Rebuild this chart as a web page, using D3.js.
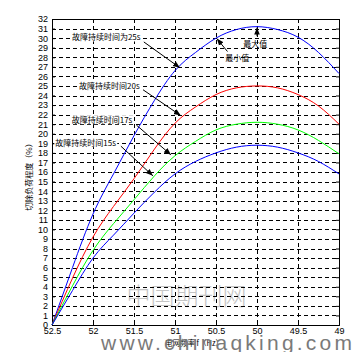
<!DOCTYPE html>
<html>
<head>
<meta charset="utf-8">
<script src="https://cdn.jsdelivr.net/npm/d3@7"></script>
<style>
  body { margin: 0; background: #fff; }
  svg { display: block; }
  text { font-family: "Liberation Sans", Arial, sans-serif; }
</style>
</head>
<body>
<div id="chart"></div>
<script>
// frequency (Hz), read left to right
const freq = [52.5, 52.25, 52, 51.75, 51.5, 51.25, 51, 50.75, 50.5, 50.25, 50, 49.75, 49.5, 49.25, 49];
const dur25 = [0, 6.0, 11.6, 15.8, 19.8, 23.5, 26.6, 28.5, 30.0, 30.9, 31.2, 30.9, 30.1, 28.5, 26.3];
const dur20 = [0, 4.9, 9.2, 12.4, 15.3, 18.4, 21.1, 22.8, 24.1, 24.8, 25.0, 24.8, 24.1, 22.9, 21.0];
const dur17 = [0, 4.1, 7.8, 10.6, 13.1, 15.6, 17.7, 19.2, 20.4, 21.0, 21.2, 21.0, 20.4, 19.3, 17.9];
const dur15 = [0, 3.6, 7.0, 9.4, 11.7, 13.9, 15.8, 17.1, 18.0, 18.6, 18.8, 18.6, 18.0, 17.1, 15.8];
const seriesColors = ["#0000ff", "#ff0000", "#00ff00", "#0000ff"];
const seriesNames = ["故障持续时间为25s", "故障持续时间20s", "故障持续时间17s", "故障持续时间15s"];
const xTicks = [52.5, 52, 51.5, 51, 50.5, 50, 49.5, 49];
const xTickLabels = ["52.5", "52", "51.5", "51", "50.5", "50", "49.5", "49"];
const yTicks = d3.range(0, 33);

// annotation: label right end (freq, value), arrow start -> arrow target on curve
const labelPos = [[51.42, 30.05], [51.43, 25.0], [51.52, 21.4], [51.72, 19.0]];
const arrowFrom = [[51.38, 29.6], [51.39, 24.6], [51.47, 20.9], [51.66, 18.7]];
const arrowTo = [[50.94, 26.9], [50.93, 21.9], [51.05, 17.8], [51.27, 15.6]];

const W = 354, H = 352;
const margin = { top: 19, right: 15, bottom: 27, left: 52 };
const width = W - margin.left - margin.right;
const height = H - margin.top - margin.bottom;

const svg = d3.select("#chart").append("svg")
  .attr("width", W).attr("height", H);

svg.append("defs").append("marker")
  .attr("id", "arr")
  .attr("viewBox", "0 0 10 10")
  .attr("refX", 10).attr("refY", 5)
  .attr("markerWidth", 7).attr("markerHeight", 7)
  .attr("markerUnits", "userSpaceOnUse")
  .attr("orient", "auto")
  .append("path").attr("d", "M0,1L10,5L0,9z").attr("fill", "#000");

const g = svg.append("g").attr("transform", `translate(${margin.left},${margin.top})`);

const x = d3.scaleLinear().domain([52.5, 49]).range([0, width]);
const y = d3.scaleLinear().domain([0, 32]).range([height, 0]);

// watermark
g.append("text")
  .attr("x", x(50.86)).attr("y", y(2.1))
  .attr("text-anchor", "middle")
  .style("font-family", "'Noto Sans CJK SC'")
  .style("font-weight", 300)
  .style("font-size", "24px")
  .attr("fill", "#c4c4c4")
  .text("中国期刊网");

// grid
g.append("g").selectAll("line")
  .data(yTicks.slice(1, -1))
  .join("line")
  .attr("x1", 0).attr("x2", width)
  .attr("y1", d => Math.round(y(d)) + 0.5).attr("y2", d => Math.round(y(d)) + 0.5)
  .attr("stroke", "#000").attr("stroke-dasharray", "4,3");

g.append("g").selectAll("line")
  .data(xTicks.slice(1, -1))
  .join("line")
  .attr("x1", d => Math.round(x(d)) + 0.5).attr("x2", d => Math.round(x(d)) + 0.5)
  .attr("y1", 0).attr("y2", height)
  .attr("stroke", "#000").attr("stroke-dasharray", "4,3");

// axes
g.append("g")
  .call(d3.axisLeft(y).tickValues(yTicks).tickSize(-3).tickPadding(4));
const xAxis = g.append("g")
  .attr("transform", `translate(0,${height})`)
  .call(d3.axisBottom(x).tickValues(xTicks).tickFormat((d, i) => xTickLabels[i]).tickSize(-3).tickPadding(3));
g.append("g").attr("transform", `translate(${width},0)`)
  .call(d3.axisRight(y).tickValues(yTicks).tickSize(-3).tickFormat(""));
g.append("g")
  .call(d3.axisTop(x).tickValues(xTicks).tickSize(-3).tickFormat(""));
g.selectAll(".domain").attr("stroke", "#000");
g.selectAll(".tick text").style("font-size", "9px").attr("fill", "#000");

// curves
const allSeries = [dur25, dur20, dur17, dur15];
const line = d3.line()
  .x((d, i) => x(freq[i]))
  .y(d => y(d))
  .curve(d3.curveNatural);

g.append("g").selectAll("path")
  .data(allSeries)
  .join("path")
  .attr("fill", "none")
  .attr("stroke", (d, i) => seriesColors[i])
  .attr("stroke-width", 1)
  .attr("d", line);

// annotations
const ann = g.append("g");
seriesNames.forEach((name, i) => {
  const t = ann.append("text")
    .attr("x", x(labelPos[i][0])).attr("y", y(labelPos[i][1]))
    .attr("text-anchor", "end")
    .attr("dy", "0.35em")
    .style("font-family", "'Noto Sans CJK SC'")
    .style("font-size", "8px")
    .attr("fill", "#000")
    .text(name);
  const bb = t.node().getBBox();
  ann.insert("rect", "text")
    .attr("x", bb.x - 1).attr("y", bb.y + 1)
    .attr("width", bb.width + 2).attr("height", bb.height - 2)
    .attr("fill", "#fff");
  ann.append("line")
    .attr("x1", x(arrowFrom[i][0])).attr("y1", y(arrowFrom[i][1]))
    .attr("x2", x(arrowTo[i][0])).attr("y2", y(arrowTo[i][1]))
    .attr("stroke", "#000").attr("marker-end", "url(#arr)");
});

// max / min markers
ann.append("line")
  .attr("x1", x(50)).attr("y1", y(30.2))
  .attr("x2", x(50)).attr("y2", y(31.1))
  .attr("stroke", "#000").attr("marker-end", "url(#arr)");
ann.append("text")
  .attr("x", x(50.02)).attr("y", y(29.4))
  .attr("text-anchor", "middle").attr("dy", "0.35em")
  .style("font-family", "'Noto Sans CJK SC'").style("font-size", "8px")
  .text("最大值");
ann.append("line")
  .attr("x1", x(50.36)).attr("y1", y(28.6))
  .attr("x2", x(50.49)).attr("y2", y(29.95))
  .attr("stroke", "#000").attr("marker-end", "url(#arr)");
ann.append("text")
  .attr("x", x(50.24)).attr("y", y(27.9))
  .attr("text-anchor", "middle").attr("dy", "0.35em")
  .style("font-family", "'Noto Sans CJK SC'").style("font-size", "8px")
  .text("最小值");

// axis titles
svg.append("text")
  .attr("transform", `translate(32,175) rotate(-90)`)
  .attr("text-anchor", "middle")
  .style("font-family", "'Noto Sans CJK SC'")
  .style("font-size", "8px")
  .text("切除负荷程度（%）");

svg.append("text")
  .attr("x", 194).attr("y", 346)
  .attr("text-anchor", "middle")
  .style("font-family", "'Noto Sans CJK SC'")
  .style("font-size", "7.5px")
  .text("电网频率 f（Hz）");

// site watermark
svg.append("text")
  .attr("x", 101).attr("y", 350)
  .attr("textLength", 251)
  .attr("lengthAdjust", "spacing")
  .style("font-size", "21px")
  .attr("fill", "#7a7a7a")
  .text("www.chinaqking.com");
</script>
</body>
</html>
